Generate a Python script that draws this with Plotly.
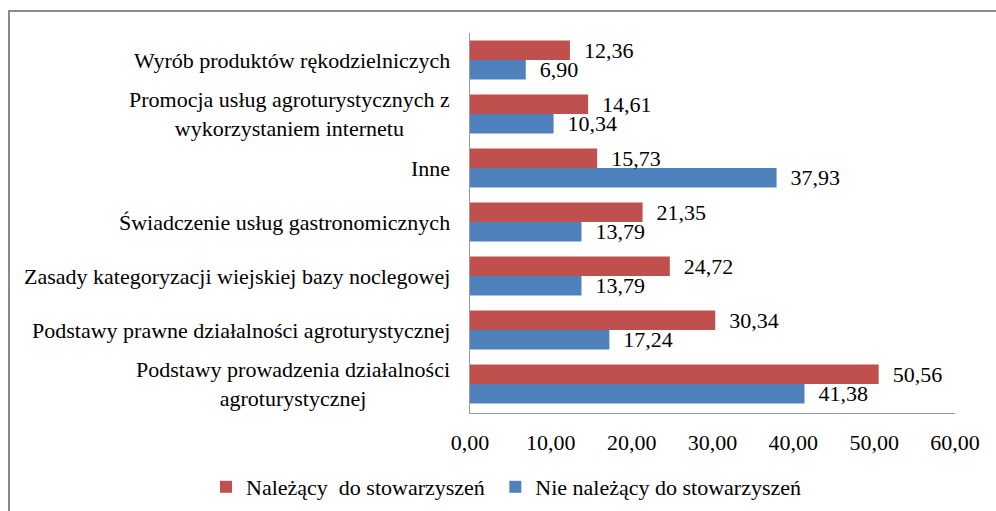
import plotly.graph_objects as go

categories = [
    "Podstawy prowadzenia działalności<br>agroturystycznej",
    "Podstawy prawne działalności agroturystycznej",
    "Zasady kategoryzacji wiejskiej bazy noclegowej",
    "Świadczenie usług gastronomicznych",
    "Inne",
    "Promocja usług agroturystycznych z<br>wykorzystaniem internetu",
    "Wyrób produktów rękodzielniczych",
]
nalezacy = [50.56, 30.34, 24.72, 21.35, 15.73, 14.61, 12.36]
nie_nalezacy = [41.38, 17.24, 13.79, 13.79, 37.93, 10.34, 6.90]
x_ticks = [0, 10, 20, 30, 40, 50, 60]

RED = "#C0504D"
BLUE = "#4F81BD"
FONT = "Liberation Serif, Times New Roman, serif"
FS = 22

fig = go.Figure()
fig.add_trace(go.Bar(
    y=categories, x=nie_nalezacy, orientation="h", name="Nie należący do stowarzyszeń",
    marker=dict(color=BLUE, line=dict(width=0)),
    texttemplate="\u00a0\u00a0%{x:.2f}", textposition="outside", cliponaxis=False,
    constraintext="none",
    textfont=dict(family=FONT, size=FS, color="black"), legendrank=2,
))
fig.add_trace(go.Bar(
    y=categories, x=nalezacy, orientation="h", name="Należący  do stowarzyszeń\u00a0",
    marker=dict(color=RED, line=dict(width=0)),
    texttemplate="\u00a0\u00a0%{x:.2f}", textposition="outside", cliponaxis=False,
    constraintext="none",
    textfont=dict(family=FONT, size=FS, color="black"), legendrank=1,
))

# plot area in pixels
L, T, W, H = 470, 33, 485, 380
def px2x(p):
    return (p - L) / W
def py2y(p):
    return (T + H - p) / H

annotations = []
for c in categories:
    annotations.append(dict(
        x=px2x(452), xref="paper", y=c, yref="y", text=c, showarrow=False,
        xanchor="right", yanchor="middle", align="center",
        font=dict(family=FONT, size=FS, color="black"),
    ))

fig.update_layout(
    width=996, height=511,
    margin=dict(l=L, r=996 - L - W, t=T, b=511 - T - H, autoexpand=False),
    paper_bgcolor="white", plot_bgcolor="white",
    barmode="group", bargap=0.28, bargroupgap=0,
    separators=",.",
    font=dict(family=FONT, size=FS, color="black"),
    showlegend=True,
    legend=dict(orientation="h", x=px2x(206), xanchor="left", y=py2y(487), yanchor="middle",
                bgcolor="rgba(0,0,0,0)",
                font=dict(family=FONT, size=FS, color="black"), itemwidth=30),
    xaxis=dict(range=[0, 60], tickvals=x_ticks, tickformat=".2f", showgrid=False, zeroline=False,
               showline=True, linecolor="#9A9A9A", linewidth=1, ticks="", ticklabelstandoff=10,
               tickfont=dict(family=FONT, size=FS, color="black"), fixedrange=True),
    yaxis=dict(showticklabels=False, showgrid=False, zeroline=False, showline=True,
               linecolor="#9A9A9A", linewidth=1, ticks="", fixedrange=True),
    annotations=annotations,
    shapes=[dict(type="rect", xref="paper", yref="paper",
                 x0=px2x(9), x1=px2x(1010), y0=py2y(530), y1=py2y(11),
                 line=dict(color="#8A8A8A", width=2), fillcolor="rgba(0,0,0,0)", layer="below")],
)

fig.write_html("out.html", config={"displayModeBar": False},
               post_script="document.body.style.margin='0';document.body.style.overflow='hidden';")
